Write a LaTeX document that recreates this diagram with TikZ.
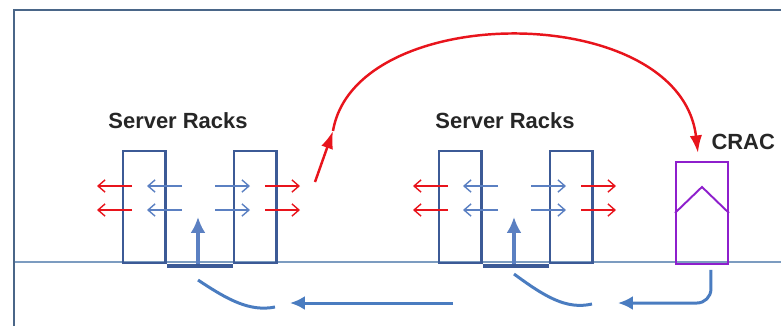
\documentclass[tikz,border=0pt]{standalone}
\usepackage{fontspec}
\setmainfont{Liberation Sans}
\usetikzlibrary{arrows.meta}
\definecolor{wallgray}{HTML}{4A6688}
\definecolor{floorgray}{HTML}{7C9CC0}
\definecolor{rackblue}{HTML}{3C5A96}
\definecolor{airblue}{HTML}{5B80C2}
\definecolor{coolblue}{HTML}{4A7CC0}
\definecolor{hotred}{HTML}{E8141C}
\definecolor{cracpurple}{HTML}{8E1FCC}

\begin{document}
\begin{tikzpicture}[x=0.02cm, y=-0.02cm, semithick,
  rack/.style={draw=rackblue, line width=1.2pt, minimum width=0.85cm, minimum height=2.24cm, inner sep=0pt, anchor=north west},
  cracbox/.style={draw=cracpurple, line width=1.1pt, minimum width=1.04cm, minimum height=2.04cm, inner sep=0pt, anchor=north west},
  lbl/.style={font=\bfseries\fontsize{12.5}{15}\selectfont, text=black!85, inner sep=0pt},
  tile/.style={draw=rackblue, line width=2pt},
  hot/.style={draw=hotred, line width=0.8pt, -{Straight Barb[length=4pt, width=7pt]}},
  warm/.style={draw=airblue, line width=0.8pt, -{Straight Barb[length=4pt, width=7pt]}},
  uparrow/.style={draw=airblue, line width=2pt, -{Latex[length=9pt, width=8.5pt]}},
  hotflow/.style={draw=hotred, line width=1.4pt, -{Latex[length=10pt, width=7pt]}},
  coolflow/.style={draw=coolblue, line width=1.7pt},
  coolhead/.style={coolflow, -{Latex[length=8.5pt, width=8pt]}}]
\useasboundingbox (0,0) rectangle (781,326);

\draw[draw=floorgray, line width=0.8pt] (14,262) -- (781,262);
\draw[draw=wallgray, line width=1.5pt] (14,326) -- (14,10) -- (781,10);

\foreach \dx/\n in {0/a,316/b} {
  \node[rack] (rack\n l) at (122+\dx,150) {};
  \node[rack] (rack\n r) at (233+\dx,150) {};
  \draw[tile] ([yshift=-1pt]rack\n l.south east) -- ([yshift=-1pt]rack\n r.south west);
  \draw[uparrow] (198+\dx,264) -- (198+\dx,217);
  \foreach \y in {186,210} {
    \draw[hot] (132+\dx,\y) -- (97+\dx,\y);
    \draw[warm] (182+\dx,\y) -- (147+\dx,\y);
    \draw[warm] (215+\dx,\y) -- (250+\dx,\y);
    \draw[hot] (265+\dx,\y) -- (300+\dx,\y);
  }
}
\node[lbl] (lbla) at (178,121) {Server Racks};
\node[lbl] (lblb) at (505,121) {Server Racks};

\node[cracbox] (crac) at (675,161) {};
\draw[draw=cracpurple, line width=1.1pt] (crac.west) -- ([shift={(0,-26)}]crac.center) -- (crac.east);
\node[lbl, anchor=west] (craclbl) at (711,142) {CRAC};

\coordinate (hotout) at (315,182);
\coordinate (hotmid) at (333,131);
\draw[hotflow] (hotout) -- (hotmid);
\draw[hotflow] (hotmid) .. controls (355,0) and (680,0) .. ([shift={(-4,-8)}]crac.north);

\coordinate (returnend) at (618,303);
\coordinate (floorstart) at (453,303);
\coordinate (floorend) at (290,303);
\draw[coolhead, rounded corners=8pt] ([shift={(9,5)}]crac.south) |- (returnend);
\draw[coolhead] (floorstart) -- (floorend);
\draw[coolflow] (198,280) .. controls (228,300) and (250,312) .. (275,307);
\draw[coolflow] (514,274) .. controls (544,296) and (566,310) .. (592,304);
\end{tikzpicture}
\end{document}
